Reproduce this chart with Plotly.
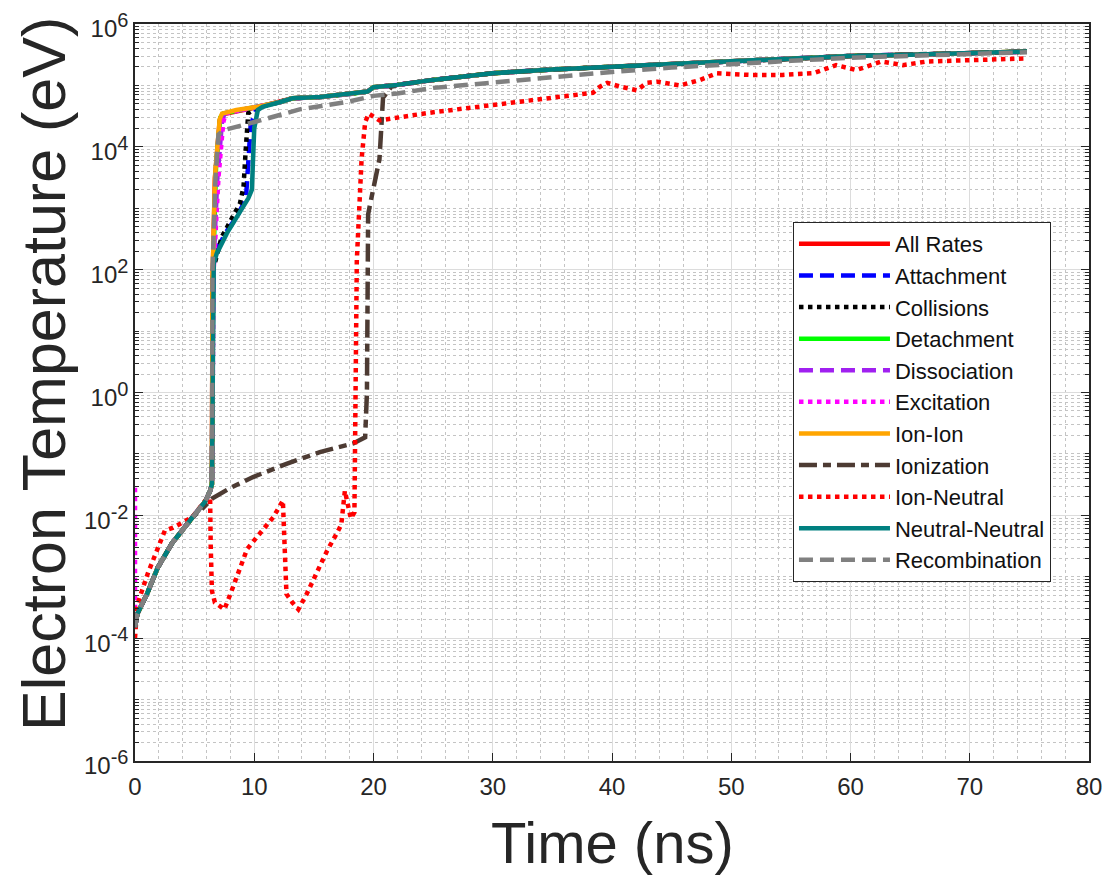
import plotly.graph_objects as go

# ---------------- data (time in ns, electron temperature in eV) ----------------
# shared early segment (all curves overlap here)
t_early = [0, 0.2, 1.0, 1.9, 3.1, 4.8, 5.9, 6.3, 6.45]
Te_early = [1.5e-4, 2.5e-4, 5.2e-4, 1.4e-3, 3.5e-3, 9.3e-3, 1.7e-2, 2.5e-2, 3.2e-2]

# shared late segment (main group)
t_late = [12.2, 13.2, 15.5, 18, 19.5, 20, 22, 25, 30, 35, 40, 45, 50, 55, 60, 65, 70, 74.8]
Te_late = [5.37e4, 6.17e4, 6.46e4, 7.24e4, 7.94e4, 9.33e4, 1.02e5, 1.23e5, 1.58e5, 1.82e5,
           2.0e5, 2.19e5, 2.4e5, 2.69e5, 3.02e5, 3.16e5, 3.39e5, 3.55e5]

# per-series rise segments
t_mid_all_rates = [6.5, 6.7, 7.1, 7.35, 10.2]
Te_mid_all_rates = [60, 3.0e3, 2.7e4, 3.4e4, 4.4e4]

t_mid_attachment = [6.55, 6.8, 7.6, 8.5, 9.3, 9.7, 10.2, 10.7]
Te_mid_attachment = [126, 200, 398, 708, 1.41e3, 2.24e4, 4.17e4, 4.57e4]

t_mid_collisions = [6.55, 7.27, 8.8, 9.1, 9.3, 9.5, 10.2]
Te_mid_collisions = [100, 339, 1.2e3, 2.24e3, 1.0e4, 3.55e4, 4.27e4]

t_mid_detachment = [6.55, 6.8, 7.15, 7.4, 10.2]
Te_mid_detachment = [80, 5.0e3, 3.0e4, 3.5e4, 4.5e4]

t_mid_dissociation = [6.55, 6.9, 7.3, 7.5, 10.2]
Te_mid_dissociation = [90, 3.0e3, 2.6e4, 3.5e4, 4.5e4]

t_start_excitation = [0]
Te_start_excitation = [2.8e-2]
t_mid_excitation = [6.6, 7.0, 7.4, 7.6, 10.2]
Te_mid_excitation = [100, 3.2e3, 2.5e4, 3.5e4, 4.5e4]

t_mid_ion_ion = [6.5, 6.7, 7.1, 7.3, 8.5, 10.2]
Te_mid_ion_ion = [63, 3.16e3, 2.82e4, 3.47e4, 3.98e4, 4.47e4]

t_ionization = [0, 0.2, 1.0, 1.9, 3.1, 4.8, 5.6, 6.5, 8.0, 9.9, 12.7, 15.5, 18.3, 19.3,
                19.45, 19.55, 19.7, 20.5, 20.8, 21.5]
Te_ionization = [1.5e-4, 2.5e-4, 5.2e-4, 1.4e-3, 3.5e-3, 9.3e-3, 1.26e-2, 1.9e-2, 2.8e-2,
                 4.2e-2, 6.9e-2, 0.107, 0.148, 0.186, 1.0, 794, 1.12e3, 6.31e3, 6.31e4, 9.55e4]
t_late_ionization = [22, 25, 30, 35, 40, 45, 50, 55, 60, 65, 70, 74.8]
Te_late_ionization = [1.02e5, 1.23e5, 1.58e5, 1.82e5, 2.0e5, 2.19e5, 2.4e5, 2.69e5, 3.02e5,
                      3.16e5, 3.39e5, 3.55e5]

t_ion_neutral = [0, 0.2, 1.1, 1.9, 2.5, 3.2, 4.2, 4.8, 5.9, 6.3, 6.35, 6.45, 6.7, 7.1, 7.5,
                 8.1, 8.5, 9.4, 10.2, 10.7, 11.6, 12.4, 12.5, 12.6, 12.7, 13.2, 13.7, 14.4,
                 15.2, 16.1, 16.9, 17.3, 17.6, 17.8, 18.1, 18.4, 18.45, 18.5, 18.6, 19.0,
                 19.3, 19.6, 20.5, 24.5, 30, 33.4, 36.2, 38.4, 39, 39.6, 40.7, 42.1, 42.9,
                 43.8, 45.7, 47.4, 48.8, 50.5, 51.6, 54.3, 56.9, 58.8, 60.5, 62.6, 64.4,
                 66.4, 70.9, 74.8]
Te_ion_neutral = [1.0e-4, 3.55e-4, 1.17e-3, 3.02e-3, 5.62e-3, 6.31e-3, 7.94e-3, 9.33e-3,
                  1.74e-2, 1.9e-2, 3.16e-3, 5.89e-4, 3.8e-4, 3.39e-4, 2.95e-4, 5.89e-4,
                  9.77e-4, 2.82e-3, 4.37e-3, 5.62e-3, 9.33e-3, 1.74e-2, 3.98e-3, 6.61e-4,
                  5.25e-4, 3.8e-4, 2.95e-4, 5.25e-4, 1.12e-3, 2.63e-3, 5.01e-3, 7.08e-3,
                  2.51e-2, 1.58e-2, 8.91e-3, 1.12e-2, 0.1, 3.16, 141, 6.31e3, 2.51e4,
                  3.47e4, 2.69e4, 3.55e4, 4.79e4, 5.75e4, 6.76e4, 7.59e4, 9.55e4, 1.1e5,
                  9.55e4, 8.32e4, 1.1e5, 1.15e5, 1.0e5, 1.23e5, 1.58e5, 1.48e5, 1.48e5,
                  1.48e5, 1.58e5, 2.14e5, 1.78e5, 2.45e5, 2.14e5, 2.45e5, 2.57e5, 2.75e5]

t_mid_neutral_neutral = [6.6, 6.85, 7.7, 8.5, 9.5, 9.8, 10.0, 10.3, 10.7]
Te_mid_neutral_neutral = [126, 182, 389, 708, 1.45e3, 2.0e3, 2.0e4, 3.98e4, 4.47e4]

t_mid_recombination = [6.5, 6.75, 7.0, 7.4, 10.5]
Te_mid_recombination = [100, 3.16e3, 1.58e4, 1.86e4, 2.69e4]
t_late_recombination = [12.2, 13.8, 15.5, 18, 20, 22, 25, 30, 35, 40, 45, 50, 55, 60, 65, 70, 74.8]
Te_late_recombination = [3.31e4, 4.07e4, 4.57e4, 5.5e4, 6.76e4, 7.41e4, 9.12e4, 1.12e5,
                         1.38e5, 1.66e5, 1.95e5, 2.24e5, 2.51e5, 2.82e5, 3.02e5, 3.24e5, 3.47e5]

x_ticks = [0, 10, 20, 30, 40, 50, 60, 70, 80]
y_ticks = [1e-6, 1e-4, 1e-2, 1e0, 1e2, 1e4, 1e6]
y_exponents = ["-6", "-4", "-2", "0", "2", "4", "6"]
y_ticktext = ["10<sup><span style='font-size:20px'>%s</span></sup>" % e for e in y_exponents]

# ---------------- series ----------------
DASH = "14px,7px"
DASHDOT = "18px,6px,8px,6px"
series = [
    ("All Rates", t_early + t_mid_all_rates + t_late, Te_early + Te_mid_all_rates + Te_late, "#FF0000", "solid"),
    ("Attachment", t_early + t_mid_attachment + t_late, Te_early + Te_mid_attachment + Te_late, "#0000FF", DASH),
    ("Collisions", t_early + t_mid_collisions + t_late, Te_early + Te_mid_collisions + Te_late, "#000000", "dot"),
    ("Detachment", t_early + t_mid_detachment + t_late, Te_early + Te_mid_detachment + Te_late, "#00FF00", "solid"),
    ("Dissociation", t_early + t_mid_dissociation + t_late, Te_early + Te_mid_dissociation + Te_late, "#A020F0", DASH),
    ("Excitation", t_start_excitation + t_early + t_mid_excitation + t_late,
     Te_start_excitation + Te_early + Te_mid_excitation + Te_late, "#FF00FF", "dot"),
    ("Ion-Ion", t_early + t_mid_ion_ion + t_late, Te_early + Te_mid_ion_ion + Te_late, "#FFA500", "solid"),
    ("Ionization", t_ionization + t_late_ionization, Te_ionization + Te_late_ionization, "#4D3B33", DASHDOT),
    ("Ion-Neutral", t_ion_neutral, Te_ion_neutral, "#FF0000", "dot"),
    ("Neutral-Neutral", t_early + t_mid_neutral_neutral + t_late,
     Te_early + Te_mid_neutral_neutral + Te_late, "#008080", "solid"),
    ("Recombination", t_early + t_mid_recombination + t_late_recombination,
     Te_early + Te_mid_recombination + Te_late_recombination, "#808080", DASH),
]

fig = go.Figure()
for name, t, Te, color, dash in series:
    fig.add_trace(go.Scatter(x=t, y=Te, mode="lines", name=name,
                             line=dict(color=color, width=4.5, dash=dash)))

FONT = "Liberation Sans, Arial, Helvetica, sans-serif"
AX = "#262626"

minor_y = [k * 10.0 ** n for n in range(-6, 6) for k in range(1, 10)
           if not (k == 1 and n % 2 == 0)]

# the page body adds an 8px offset; plot area is 954 x 737 px
fig.update_layout(
    width=1104, height=874,
    margin=dict(l=127, r=23, t=16, b=121, autoexpand=False),
    paper_bgcolor="white", plot_bgcolor="white",
    font=dict(family=FONT, color=AX),
    showlegend=True,
    legend=dict(x=0.6897, y=0.7313, xanchor="left", yanchor="top",
                bgcolor="white", bordercolor=AX, borderwidth=1,
                font=dict(size=22, family=FONT, color="#111111"),
                itemwidth=91, tracegroupgap=0),
    xaxis=dict(range=[0, 80], tickmode="array", tickvals=x_ticks, automargin=False,
               ticks="inside", ticklen=8, tickwidth=1.2, tickcolor=AX,
               showline=True, linecolor=AX, linewidth=1.5, mirror="ticks",
               showgrid=True, gridcolor="#dcdcdc", gridwidth=1, zeroline=False,
               ticklabeloverflow="allow", ticklabelstandoff=3,
               tickfont=dict(size=24, family=FONT, color=AX),
               minor=dict(dtick=2, tick0=0, showgrid=True, gridcolor="#c4c4c4",
                          griddash="dot", gridwidth=1, ticks="")),
    yaxis=dict(type="log", range=[-6, 6], tickmode="array", tickvals=y_ticks,
               ticktext=y_ticktext, automargin=False,
               ticks="inside", ticklen=8, tickwidth=1.2, tickcolor=AX,
               showline=True, linecolor=AX, linewidth=1.5, mirror="ticks",
               showgrid=True, gridcolor="#dcdcdc", gridwidth=1, zeroline=False,
               ticklabeloverflow="allow", ticklabelshift=5,
               tickfont=dict(size=24, family=FONT, color=AX),
               minor=dict(tickmode="array", tickvals=minor_y, ticks="inside", ticklen=4,
                          tickcolor=AX, showgrid=True, gridcolor="#c4c4c4",
                          griddash="dot", gridwidth=1)),
    annotations=[
        dict(text="Time (ns)", xref="paper", yref="paper", x=0.5, y=-0.111,
             xanchor="center", yanchor="middle", showarrow=False,
             font=dict(size=58, family=FONT, color=AX)),
        dict(text="Electron Temperature (eV)", xref="paper", yref="paper",
             x=-0.0955, y=0.525, xanchor="center", yanchor="middle",
             textangle=-90, showarrow=False,
             font=dict(size=61, family=FONT, color=AX)),
    ],
)

fig.write_html("out.html")
